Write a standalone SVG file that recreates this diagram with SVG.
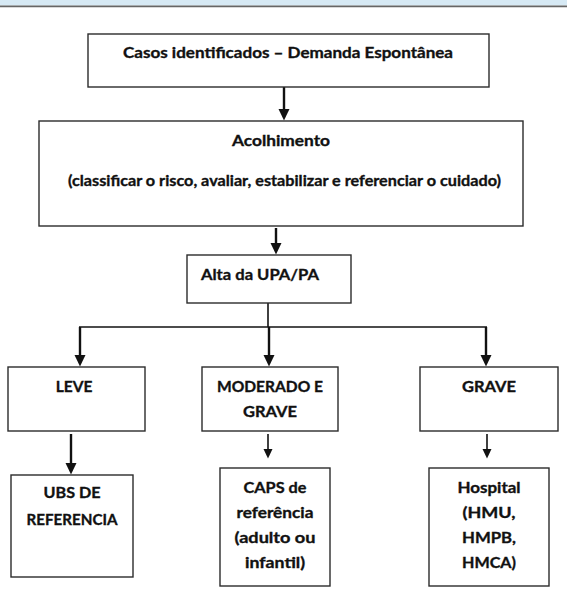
<svg xmlns="http://www.w3.org/2000/svg" width="567" height="605" viewBox="0 0 567 605">
  <style>
    .box { fill: #ffffff; stroke: #2b2b2b; stroke-width: 1.4; }
    .t { font-family: Lato, "Liberation Sans", sans-serif; font-weight: bold; font-size: 15.5px; fill: #111111; stroke: #111111; stroke-width: 0.35; text-anchor: middle; }
    .ts { text-anchor: start; }
    .c { stroke: #111111; fill: none; }
    .thick { stroke-width: 2.4; }
    .thin { stroke-width: 1.6; }
  </style>
  <defs>
    <marker id="ah" markerUnits="userSpaceOnUse" markerWidth="12" markerHeight="12" viewBox="0 0 12 12" refX="4" refY="6" orient="auto">
      <path d="M0,0.5 L11.5,6 L0,11.5 Z" fill="#111111"/>
    </marker>
    <marker id="ahs" markerUnits="userSpaceOnUse" markerWidth="10" markerHeight="10" viewBox="0 0 10 10" refX="3" refY="5" orient="auto">
      <path d="M0,0.5 L9.5,5 L0,9.5 Z" fill="#111111"/>
    </marker>
  </defs>
  <rect x="0" y="0" width="567" height="605" fill="#ffffff"/>
  <rect x="0" y="0" width="567" height="5.5" fill="#d6e9f4"/>
  <line x1="0" y1="6.3" x2="567" y2="6.3" stroke="#666666" stroke-width="1.8"/>

  <g id="connectors">
    <line class="c thick" x1="284" y1="87" x2="284" y2="113" marker-end="url(#ah)"/>
    <line class="c thick" x1="276" y1="228" x2="276" y2="247" marker-end="url(#ah)"/>
    <line class="c thin" x1="268" y1="303" x2="268" y2="327"/>
    <line class="c thin" x1="79" y1="327" x2="487" y2="327"/>
    <line class="c thick" x1="80" y1="327" x2="80" y2="359" marker-end="url(#ah)"/>
    <line class="c thick" x1="269" y1="327" x2="269" y2="359" marker-end="url(#ah)"/>
    <line class="c thick" x1="486" y1="327" x2="486" y2="359" marker-end="url(#ah)"/>
    <line class="c thick" x1="71" y1="434" x2="71" y2="467" marker-end="url(#ah)"/>
    <line class="c thin" x1="268" y1="434" x2="268" y2="452" marker-end="url(#ahs)"/>
    <line class="c thin" x1="487" y1="434" x2="487" y2="452" marker-end="url(#ahs)"/>
  </g>

  <g id="casos">
    <rect class="box" x="88" y="34" width="401" height="53"/>
    <text class="t" x="288" y="58" textLength="330" lengthAdjust="spacingAndGlyphs">Casos identificados – Demanda Espontânea</text>
  </g>
  <g id="acolhimento">
    <rect class="box" x="39" y="121" width="484" height="105"/>
    <text class="t" x="281" y="146" textLength="98" lengthAdjust="spacingAndGlyphs">Acolhimento</text>
    <text class="t" x="284.5" y="186" textLength="433" lengthAdjust="spacingAndGlyphs">(classificar o risco, avaliar, estabilizar e referenciar o cuidado)</text>
  </g>
  <g id="alta">
    <rect class="box" x="187" y="255" width="164" height="48"/>
    <text class="t ts" x="201" y="280" textLength="118" lengthAdjust="spacingAndGlyphs">Alta da UPA/PA</text>
  </g>
  <g id="leve">
    <rect class="box" x="8" y="367" width="137" height="64"/>
    <text class="t" x="74" y="392">LEVE</text>
  </g>
  <g id="moderado">
    <rect class="box" x="202" y="367" width="136" height="64"/>
    <text class="t" x="270" y="392" textLength="106" lengthAdjust="spacingAndGlyphs">MODERADO E</text>
    <text class="t" x="270" y="417" textLength="54" lengthAdjust="spacingAndGlyphs">GRAVE</text>
  </g>
  <g id="grave">
    <rect class="box" x="420" y="367" width="138" height="64"/>
    <text class="t" x="489" y="392" textLength="54" lengthAdjust="spacingAndGlyphs">GRAVE</text>
  </g>
  <g id="ubs">
    <rect class="box" x="11" y="475" width="122" height="102"/>
    <text class="t" x="72" y="498" textLength="57" lengthAdjust="spacingAndGlyphs">UBS DE</text>
    <text class="t" x="72" y="525" textLength="91" lengthAdjust="spacingAndGlyphs">REFERENCIA</text>
  </g>
  <g id="caps">
    <rect class="box" x="220" y="468" width="110" height="118"/>
    <text class="t" x="275" y="493" textLength="63" lengthAdjust="spacingAndGlyphs">CAPS de</text>
    <text class="t" x="275" y="518" textLength="77" lengthAdjust="spacingAndGlyphs">referência</text>
    <text class="t" x="275" y="543" textLength="81" lengthAdjust="spacingAndGlyphs">(adulto ou</text>
    <text class="t" x="275" y="568" textLength="60" lengthAdjust="spacingAndGlyphs">infantil)</text>
  </g>
  <g id="hospital">
    <rect class="box" x="429" y="468" width="120" height="118"/>
    <text class="t" x="489" y="493" textLength="63" lengthAdjust="spacingAndGlyphs">Hospital</text>
    <text class="t" x="489" y="518" textLength="53" lengthAdjust="spacingAndGlyphs">(HMU,</text>
    <text class="t" x="489" y="543" textLength="54" lengthAdjust="spacingAndGlyphs">HMPB,</text>
    <text class="t" x="489" y="568" textLength="54" lengthAdjust="spacingAndGlyphs">HMCA)</text>
  </g>
</svg>
